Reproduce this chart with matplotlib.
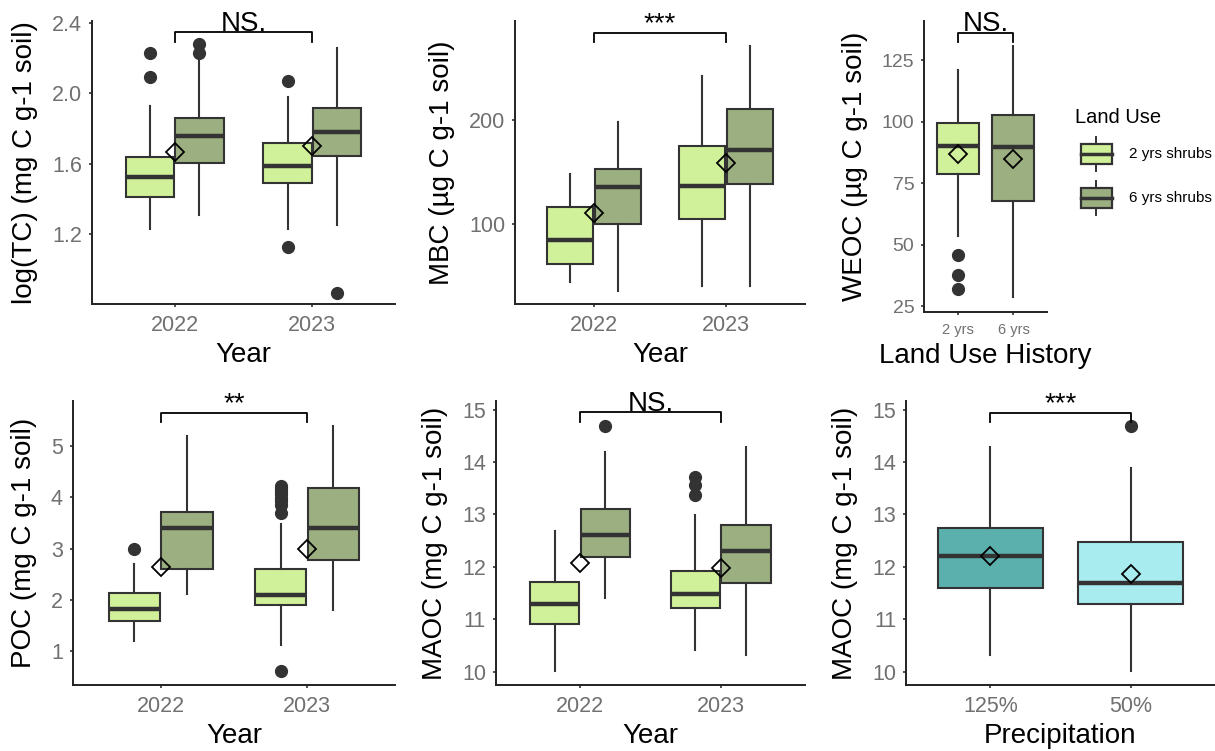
import matplotlib
matplotlib.use('Agg')
import matplotlib.pyplot as plt
from matplotlib.legend_handler import HandlerBase
from matplotlib.patches import Rectangle, Patch
from matplotlib.lines import Line2D

plt.rcParams['font.family'] = ['Liberation Sans', 'DejaVu Sans']

# ---- data: each box is [whisker low, Q1, median, Q3, whisker high] ----
years = ['2022', '2023']
land_use = ['2 yrs shrubs', '6 yrs shrubs']
history = ['2 yrs', '6 yrs']
precip = ['125%', '50%']

# box order: 2022/2yrs, 2022/6yrs, 2023/2yrs, 2023/6yrs
tc_box = [[1.23, 1.41, 1.525, 1.638, 1.93], [1.31, 1.606, 1.758, 1.858, 2.20],
          [1.228, 1.493, 1.589, 1.72, 1.98], [1.253, 1.646, 1.779, 1.915, 2.256]]
tc_fliers = [[2.09, 2.23], [2.23, 2.28], [1.13, 2.07], [0.87]]
tc_mean = [1.668, 1.702]

mbc_box = [[44, 61, 84, 116, 148], [35, 99.4, 135.4, 152.7, 198],
           [40, 104.5, 136.6, 175, 242.4], [40, 138.3, 171, 211.3, 271.4]]
mbc_fliers = [[], [], [], []]
mbc_mean = [110, 158.8]

weoc_box = [[53.5, 78.7, 90.2, 99.3, 120.9], [28.5, 67.7, 89.8, 102.9, 131]]
weoc_fliers = [[31.8, 37.6, 45.7], []]
weoc_mean = [86.7, 84.8]

poc_box = [[1.21, 1.59, 1.818, 2.13, 2.695], [2.11, 2.597, 3.409, 3.708, 5.195],
           [1.12, 1.90, 2.09, 2.597, 3.49], [1.805, 2.78, 3.396, 4.19, 5.39]]
poc_fliers = [[3.0], [], [0.62, 3.69, 3.85, 3.92, 3.99, 4.06, 4.12, 4.18, 4.23], []]
poc_mean = [2.636, 2.987]

maoc_box = [[10.01, 10.90, 11.30, 11.72, 12.69], [11.41, 12.19, 12.61, 13.10, 14.19],
            [10.41, 11.21, 11.49, 11.92, 12.99], [10.32, 11.70, 12.30, 12.79, 14.29]]
maoc_fliers = [[], [14.69], [13.38, 13.56, 13.72], []]
maoc_mean = [12.08, 11.98]

precip_box = [[10.32, 11.60, 12.21, 12.75, 14.28], [10.01, 11.30, 11.70, 12.47, 13.88]]
precip_fliers = [[], [14.69]]
precip_mean = [12.21, 11.86]

# ---- style ----
LIGHT = '#D0F09A'
DARK = '#9BAF80'
TEAL = '#5BB0AE'
CYAN = '#A9ECF0'
EDGE = '#333333'
TICK_GREY = '#707070'

W, H = 1215, 751
fig = plt.figure(figsize=(W / 100, H / 100), dpi=100)


def add_panel(left, top, right, bottom):
    # pixel box -> figure fraction
    return fig.add_axes([left / W, 1 - bottom / H, (right - left) / W, (bottom - top) / H])


def style_axes(ax, xlabels, ylabel, xlabel, yticks, ylim, xsize=15.5, ysize=15.5):
    ax.set_xlim(0.4, 2.6)
    ax.set_ylim(*ylim)
    ax.set_xticks([1, 2])
    ax.set_xticklabels(xlabels, fontsize=xsize, color=TICK_GREY)
    ax.set_yticks(yticks)
    ax.set_yticklabels([f'{t:g}' if isinstance(t, int) else f'{t:.1f}' for t in yticks],
                       fontsize=ysize, color=TICK_GREY)
    ax.tick_params(length=2.5, width=1.2, color=EDGE, pad=4.5)
    ax.tick_params(axis='x', pad=5.5)
    for side in ['top', 'right']:
        ax.spines[side].set_visible(False)
    for side in ['left', 'bottom']:
        ax.spines[side].set_linewidth(1.4)
        ax.spines[side].set_color('#222222')
    ax.set_ylabel(ylabel, fontsize=20, labelpad=10)
    ax.set_xlabel(xlabel, fontsize=20, labelpad=4.5)


def draw_boxes(ax, boxes, fliers, positions, colors, width):
    stats = []
    for b, f in zip(boxes, fliers):
        lo, q1, med, q3, hi = b
        stats.append(dict(whislo=lo, q1=q1, med=med, q3=q3, whishi=hi, fliers=f))
    art = ax.bxp(stats, positions=positions, widths=width, patch_artist=True,
                 showcaps=False, manage_ticks=False,
                 boxprops=dict(edgecolor=EDGE, linewidth=1.5),
                 medianprops=dict(color=EDGE, linewidth=3.2, solid_capstyle='butt'),
                 whiskerprops=dict(color=EDGE, linewidth=1.5),
                 flierprops=dict(marker='o', markerfacecolor=EDGE, markeredgecolor=EDGE,
                                 markersize=8.5))
    for patch, c in zip(art['boxes'], colors):
        patch.set_facecolor(c)


def draw_means(ax, means):
    ax.plot([1, 2], means, linestyle='none', marker='D', markersize=9,
            markerfacecolor='none', markeredgecolor='black', markeredgewidth=1.3, zorder=6)


def bracket(ax, y, ytip, text):
    ax.plot([1, 1, 2, 2], [ytip, y, y, ytip], color='black', lw=1.3, clip_on=False, zorder=7)
    ax.annotate(text, xy=(1.5, y), xytext=(0, 1.2), textcoords='offset points',
                ha='center', va='baseline', fontsize=20, annotation_clip=False)


dodge = 0.18
grouped_pos = [1 - dodge, 1 + dodge, 2 - dodge, 2 + dodge]
grouped_col = [LIGHT, DARK, LIGHT, DARK]

# log(TC)
ax1 = add_panel(92, 21, 395, 304)
draw_boxes(ax1, tc_box, tc_fliers, grouped_pos, grouped_col, 0.35)
draw_means(ax1, tc_mean)
style_axes(ax1, years, 'log(TC) (mg C g-1 soil)', 'Year', [1.2, 1.6, 2.0, 2.4], (0.805, 2.41))
bracket(ax1, 2.346, 2.293, 'NS.')

# MBC
ax2 = add_panel(515, 21, 805, 304)
draw_boxes(ax2, mbc_box, mbc_fliers, grouped_pos, grouped_col, 0.35)
draw_means(ax2, mbc_mean)
style_axes(ax2, years, 'MBC (µg C g-1 soil)', 'Year', [100, 200], (22.6, 295.8))
bracket(ax2, 284.6, 275.5, '***')

# WEOC
ax3 = add_panel(924, 21, 1047, 311.7)
draw_boxes(ax3, weoc_box, weoc_fliers, [1, 2], [LIGHT, DARK], 0.75)
draw_means(ax3, weoc_mean)
style_axes(ax3, history, 'WEOC (µg C g-1 soil)', 'Land Use History', [25, 50, 75, 100, 125],
           (22.7, 141), xsize=10.5, ysize=14)
bracket(ax3, 136.3, 132.6, 'NS.')

# POC
ax4 = add_panel(72.7, 401, 395, 685)
draw_boxes(ax4, poc_box, poc_fliers, grouped_pos, grouped_col, 0.35)
draw_means(ax4, poc_mean)
style_axes(ax4, years, 'POC (mg C g-1 soil)', 'Year', [1, 2, 3, 4, 5], (0.344, 5.877))
bracket(ax4, 5.65, 5.47, '**')

# MAOC by year
ax5 = add_panel(495.7, 401, 805, 685)
draw_boxes(ax5, maoc_box, maoc_fliers, grouped_pos, grouped_col, 0.35)
draw_means(ax5, maoc_mean)
style_axes(ax5, years, 'MAOC (mg C g-1 soil)', 'Year', [10, 11, 12, 13, 14, 15], (9.745, 15.165))
bracket(ax5, 14.95, 14.77, 'NS.')

# MAOC by precipitation
ax6 = add_panel(906, 401, 1215, 685)
draw_boxes(ax6, precip_box, precip_fliers, [1, 2], [TEAL, CYAN], 0.75)
draw_means(ax6, precip_mean)
style_axes(ax6, precip, 'MAOC (mg C g-1 soil)', 'Precipitation', [10, 11, 12, 13, 14, 15],
           (9.745, 15.165))
bracket(ax6, 14.93, 14.77, '***')


class BoxKeyHandler(HandlerBase):
    # small boxplot glyph as legend key
    def create_artists(self, legend, orig_handle, xdescent, ydescent, width, height,
                       fontsize, trans):
        kw = width * 0.85
        x0 = -xdescent + width - kw
        bh = height * 0.6
        y0 = -ydescent + (height - bh) / 2
        mid = y0 + bh / 2
        whisk = Line2D([x0 + kw / 2] * 2, [-ydescent, -ydescent + height], color=EDGE,
                       lw=1.4, transform=trans)
        rect = Rectangle((x0, y0), kw, bh, facecolor=orig_handle.get_facecolor(),
                         edgecolor=EDGE, lw=1.6, transform=trans)
        med = Line2D([x0, x0 + kw], [mid, mid], color=EDGE, lw=2.5, transform=trans)
        return [whisk, rect, med]


handles = [Patch(facecolor=LIGHT), Patch(facecolor=DARK)]
fig.legend(handles, land_use, handler_map={Patch: BoxKeyHandler()},
           title='Land Use', title_fontsize=14.5, fontsize=11, alignment='left',
           loc='upper left', bbox_to_anchor=(1075 / W, 1 - 108 / H), frameon=False,
           borderpad=0, borderaxespad=0, handlelength=2.44, handleheight=3.08,
           labelspacing=0.635, handletextpad=1.09)

fig.savefig('out.png', dpi=100)
